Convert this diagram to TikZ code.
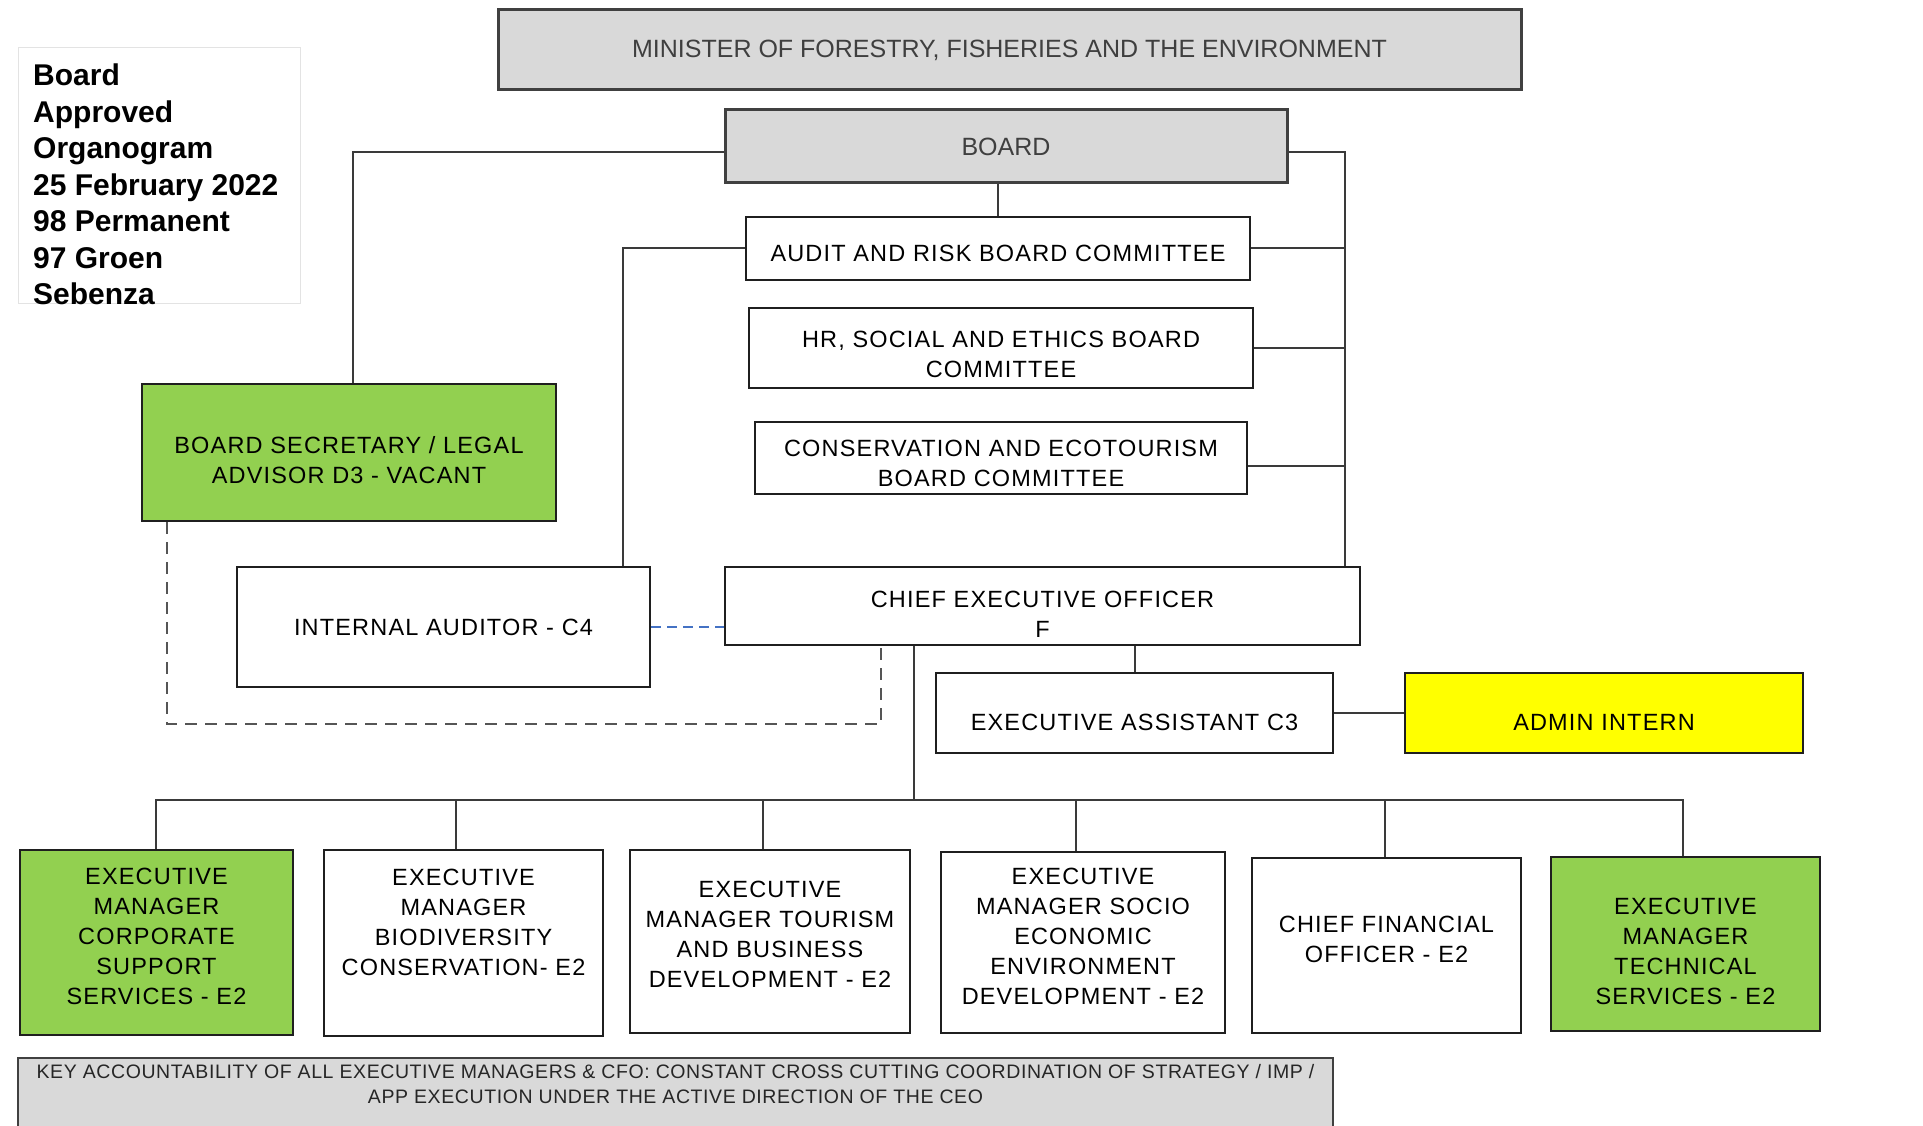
\documentclass[tikz,border=0pt]{standalone}
\usepackage{fontspec}
\setmainfont{Liberation Sans}
\newfontfamily\boxfont{Liberation Sans}[LetterSpace=5]
\newfontfamily\keyfont{Liberation Sans}[LetterSpace=3]
\usetikzlibrary{calc}
\definecolor{gfill}{HTML}{D9D9D9}
\definecolor{gline}{HTML}{404040}
\definecolor{bline}{HTML}{1F1F1F}
\definecolor{greenf}{HTML}{92D050}
\definecolor{yelf}{HTML}{FFFF00}
\definecolor{conncol}{HTML}{3A3A3A}
\definecolor{dashblue}{HTML}{4472C4}
\definecolor{dashgrey}{HTML}{555555}
\definecolor{legline}{HTML}{E3E3E3}
\definecolor{greytext}{HTML}{3F3F3F}
\definecolor{keytext}{HTML}{262626}
\begin{document}
\begin{tikzpicture}[x=1pt,y=-1pt,
  box/.style={draw=bline, line width=2.5pt, fill=white, inner sep=0pt},
  gbox/.style={draw=gline, line width=3pt, fill=gfill, inner sep=0pt},
  greenbox/.style={box, fill=greenf},
  yelbox/.style={box, fill=yelf},
  legbox/.style={draw=legline, line width=1pt, fill=white, inner sep=0pt},
  txt/.style={inner sep=0pt, align=center, text=black, font=\boxfont\fontsize{23.5}{30}\selectfont},
  gtxt/.style={inner sep=0pt, align=center, text=greytext, font=\fontsize{25}{30}\selectfont},
  keytxt/.style={inner sep=0pt, align=center, text=keytext, font=\keyfont\fontsize{19.5}{24.5}\selectfont},
  legtxt/.style={inner sep=0pt, align=left, text=black, font=\bfseries\fontsize{30}{36.5}\selectfont},
  conn/.style={draw=conncol, line width=2pt},
  greydash/.style={draw=dashgrey, line width=2pt, dash pattern=on 12pt off 8pt},
  bluedash/.style={draw=dashblue, line width=2pt, dash pattern=on 10pt off 6pt}
]
\useasboundingbox (0,0) rectangle (1923,1126);
\clip (0,0) rectangle (1923,1126);

% legend
\node[legbox, minimum width=282pt, minimum height=255pt] (leg) at (159,175.5) {};
\node[legtxt, anchor=north west] (legt) at (33,64) {Board\\Approved\\Organogram\\25 February 2022\\98 Permanent\\97 Groen\\Sebenza};

% top
\node[gbox, minimum width=1023pt, minimum height=80pt] (min) at (1009.5,50) {};
\node[gtxt] (mint) at (1009.5,50) {MINISTER OF FORESTRY, FISHERIES AND THE ENVIRONMENT};
\node[gbox, minimum width=562pt, minimum height=73pt] (board) at (1006,146.5) {};
\node[gtxt] (boardt) at (1006,146.5) {BOARD};

\node[box, minimum width=504pt, minimum height=63pt] (audit) at (998,248.5) {};
\node[txt] (auditt) at (998,253) {AUDIT AND RISK BOARD COMMITTEE};
\node[box, minimum width=504pt, minimum height=80pt] (hr) at (1001,348) {};
\node[txt] (hrt) at (1001,354) {HR, SOCIAL AND ETHICS BOARD\\COMMITTEE};
\node[box, minimum width=492pt, minimum height=72pt] (cons) at (1001,458) {};
\node[txt] (const) at (1001,463.5) {CONSERVATION AND ECOTOURISM\\BOARD COMMITTEE};

\node[greenbox, minimum width=414pt, minimum height=137pt] (sec) at (349,452.5) {};
\node[txt] (sect) at (349,460) {BOARD SECRETARY / LEGAL\\ADVISOR D3 - VACANT};

\node[box, minimum width=413pt, minimum height=120pt] (ia) at (443.5,627) {};
\node[txt] (iat) at (443.5,627) {INTERNAL AUDITOR - C4};
\node[box, minimum width=635pt, minimum height=78pt] (ceo) at (1042.5,606) {};
\node[txt] (ceot) at (1042.5,614.5) {CHIEF EXECUTIVE OFFICER\\F};
\node[box, minimum width=397pt, minimum height=80pt] (ea) at (1134.5,713) {};
\node[txt] (eat) at (1134.5,722) {EXECUTIVE ASSISTANT C3};
\node[yelbox, minimum width=398pt, minimum height=80pt] (admin) at (1604,713) {};
\node[txt] (admint) at (1604,722) {ADMIN INTERN};

% managers
\node[greenbox, minimum width=273pt, minimum height=185pt] (m1) at (156.5,942.5) {};
\node[txt] (m1t) at (156.5,936) {EXECUTIVE\\MANAGER\\CORPORATE\\SUPPORT\\SERVICES - E2};
\node[box, minimum width=279pt, minimum height=186pt] (m2) at (463.5,943) {};
\node[txt] (m2t) at (463.5,922) {EXECUTIVE\\MANAGER\\BIODIVERSITY\\CONSERVATION- E2};
\node[box, minimum width=280pt, minimum height=183pt] (m3) at (770,941.5) {};
\node[txt] (m3t) at (770,934.5) {EXECUTIVE\\MANAGER TOURISM\\AND BUSINESS\\DEVELOPMENT - E2};
\node[box, minimum width=284pt, minimum height=181pt] (m4) at (1083,942.5) {};
\node[txt] (m4t) at (1083,936) {EXECUTIVE\\MANAGER SOCIO\\ECONOMIC\\ENVIRONMENT\\DEVELOPMENT - E2};
\node[box, minimum width=269pt, minimum height=175pt] (m5) at (1386.5,945.5) {};
\node[txt] (m5t) at (1386.5,939) {CHIEF FINANCIAL\\OFFICER - E2};
\node[greenbox, minimum width=269pt, minimum height=174pt] (m6) at (1685.5,944) {};
\node[txt] (m6t) at (1685.5,951) {EXECUTIVE\\MANAGER\\TECHNICAL\\SERVICES - E2};

% key
\node[gbox, line width=2.5pt, minimum width=1315pt, minimum height=82pt] (key) at (675.5,1099) {};
\node[keytxt] (keyt) at (675.5,1084) {KEY ACCOUNTABILITY OF ALL EXECUTIVE MANAGERS \& CFO: CONSTANT CROSS CUTTING COORDINATION OF STRATEGY / IMP /\\APP EXECUTION UNDER THE ACTIVE DIRECTION OF THE CEO};

% coordinates
\coordinate (bl) at (353,152);
\coordinate (br) at (1345,152);
\coordinate (al) at (623,247);
\coordinate (d1) at (167,724);
\coordinate (d2) at (881,724);
\coordinate (bus) at (914,800);
\coordinate (consr) at (1247,466);
\coordinate (x1) at (156,800);
\coordinate (x2) at (456,800);
\coordinate (x3) at (763,800);
\coordinate (x4) at (1076,800);
\coordinate (x5) at (1385,800);
\coordinate (x6) at (1683,800);

% connectors
\draw[conn] (board.west |- bl) -- (bl) -- (sec.north -| bl);
\draw[conn] (board.east |- br) -- (br) -- (ceo.north -| br);
\draw[conn] (audit.east) -- (audit.east -| br);
\draw[conn] (hr.east) -- (hr.east -| br);
\draw[conn] (cons.east |- consr) -- (consr -| br);
\draw[conn] (board.south -| audit.north) -- (audit.north);
\draw[conn] (audit.west) -| (ia.north -| al);
\draw[bluedash] (ia.east) -- (ceo.west |- ia.east);
\draw[greydash] (sec.south -| d1) -- (d1) -- (d2) -- (ceo.south -| d2);
\draw[conn] (ceo.south -| bus) -- (bus);
\draw[conn] (m1.north -| x1) -- (x1) -- (x6) -- (m6.north -| x6);
\draw[conn] (m2.north -| x2) -- (x2);
\draw[conn] (m3.north -| x3) -- (x3);
\draw[conn] (m4.north -| x4) -- (x4);
\draw[conn] (m5.north -| x5) -- (x5);
\draw[conn] (ceo.south -| ea.north) -- (ea.north);
\draw[conn] (ea.east) -- (admin.west);
\end{tikzpicture}
\end{document}
